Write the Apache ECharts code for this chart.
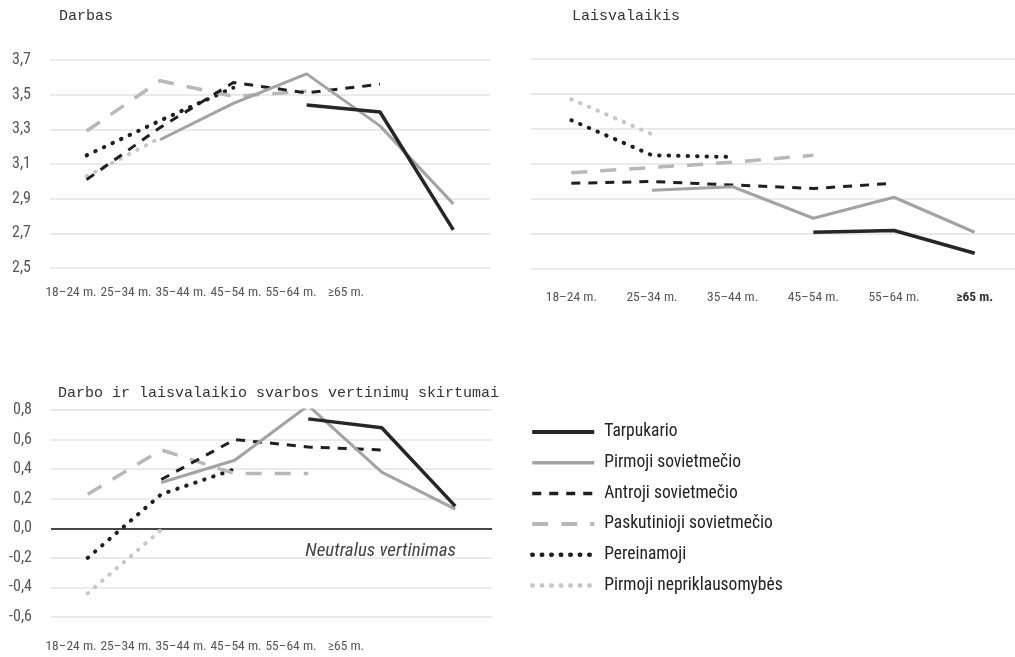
<!DOCTYPE html>
<html>
<head>
<meta charset="utf-8">
<script src="https://cdn.jsdelivr.net/npm/echarts@6/dist/echarts.min.js"></script>
<style>
html,body{margin:0;padding:0;background:#fff;}
#chart{width:1015px;height:657px;}
</style>
</head>
<body>
<div id="chart"></div>
<script>
// ---- data ----
const categories = ['18–24 m.', '25–34 m.', '35–44 m.', '45–54 m.', '55–64 m.', '≥65 m.'];
const seriesNames = ['Tarpukario', 'Pirmoji sovietmečio', 'Antroji sovietmečio', 'Paskutinioji sovietmečio', 'Pereinamoji', 'Pirmoji nepriklausomybės'];

const workTicks = ['2,5', '2,7', '2,9', '3,1', '3,3', '3,5', '3,7'];
const diffTicks = ['-0,6', '-0,4', '-0,2', '0,0', '0,2', '0,4', '0,6', '0,8'];

// Darbas
const workTarpukario   = [null, null, null, 3.44, 3.40, 2.72];
const workPirmojiSov   = [null, 3.24, 3.45, 3.62, 3.32, 2.87];
const workAntrojiSov   = [3.01, 3.31, 3.57, 3.51, 3.56, null];
const workPaskutinioji = [3.29, 3.58, 3.49, 3.52, null, null];
const workPereinamoji  = [3.15, 3.35, 3.54, null, null, null];
const workPirmojiNepr  = [3.03, 3.25, null, null, null, null];

// Laisvalaikis
const leisTarpukario   = [null, null, null, 2.71, 2.72, 2.59];
const leisPirmojiSov   = [null, 2.95, 2.97, 2.79, 2.91, 2.71];
const leisAntrojiSov   = [2.99, 3.00, 2.98, 2.96, 2.99, null];
const leisPaskutinioji = [3.05, 3.08, 3.11, 3.15, null, null];
const leisPereinamoji  = [3.35, 3.15, 3.14, null, null, null];
const leisPirmojiNepr  = [3.47, 3.27, null, null, null, null];

// Skirtumai
const diffTarpukario   = [null, null, null, 0.74, 0.68, 0.15];
const diffPirmojiSov   = [null, 0.31, 0.46, 0.83, 0.38, 0.13];
const diffAntrojiSov   = [null, 0.33, 0.60, 0.55, 0.53, null];
const diffPaskutinioji = [0.23, 0.53, 0.37, 0.37, null, null];
const diffPereinamoji  = [-0.20, 0.23, 0.40, null, null, null];
const diffPirmojiNepr  = [-0.44, -0.01, null, null, null, null];

// ---- styles ----
const styles = [
  {color: '#262626', width: 3.5, type: 'solid', cap: 'butt'},
  {color: '#a3a3a3', width: 3, type: 'solid', cap: 'butt'},
  {color: '#1f1f1f', width: 3, type: [9, 8], cap: 'butt'},
  {color: '#b8b8b8', width: 3.5, type: [16, 13], cap: 'butt'},
  {color: '#1f1f1f', width: 4, type: [0.5, 9], cap: 'round'},
  {color: '#c6c6c6', width: 4, type: [0.5, 9], cap: 'round'}
];

const condFont = '"Roboto Condensed", Roboto, sans-serif';
const titleFont = '"Liberation Mono", "DejaVu Sans Mono", monospace';
const gridColor = '#e3e3e3';
const tickColor = '#555';

const panels = [
  {x: 0, y: 0, data: [workTarpukario, workPirmojiSov, workAntrojiSov, workPaskutinioji, workPereinamoji, workPirmojiNepr]},
  {x: 2, y: 3, data: [leisTarpukario, leisPirmojiSov, leisAntrojiSov, leisPaskutinioji, leisPereinamoji, leisPirmojiNepr]},
  {x: 3, y: 5, data: [diffTarpukario, diffPirmojiSov, diffAntrojiSov, diffPaskutinioji, diffPereinamoji, diffPirmojiNepr]}
];

const series = [];
panels.forEach((p, pi) => {
  p.data.forEach((d, si) => {
    const st = styles[si];
    const s = {
      name: seriesNames[si],
      type: 'line',
      xAxisIndex: p.x,
      yAxisIndex: p.y,
      data: d,
      symbol: 'none',
      showSymbol: false,
      connectNulls: false,
      silent: true,
      z: 10 - si,
      itemStyle: {color: st.color},
      lineStyle: {color: st.color, width: st.width, type: st.type, cap: st.cap}
    };
    if (pi === 2 && si === 0) {
      s.markLine = {
        silent: true,
        symbol: 'none',
        label: {show: false},
        lineStyle: {color: '#111', width: 1.5, type: 'solid'},
        data: [{yAxis: 0}],
        z: 1
      };
    }
    series.push(s);
  });
});

const labelAxisCommon = {
  axisLine: {show: false}, axisTick: {show: false}, splitLine: {show: false}
};

const legendData = seriesNames.map((n, i) => ({
  name: n,
  itemStyle: {opacity: 0},
  lineStyle: {color: styles[i].color, width: styles[i].width + 0.5, type: styles[i].type, cap: styles[i].cap}
}));

const xLabel = {show: true, fontFamily: condFont, fontSize: 13.5, color: tickColor, interval: 0};
const yLabel = {show: true, interval: 0, margin: 19, fontFamily: condFont, fontSize: 16, color: tickColor};

const option = {
  backgroundColor: '#fff',
  animation: false,
  title: [
    {text: 'Darbas', left: 59, top: 9, padding: 0, textStyle: {fontFamily: titleFont, fontSize: 15, fontWeight: 'normal', color: '#333'}},
    {text: 'Laisvalaikis', left: 572, top: 9, padding: 0, textStyle: {fontFamily: titleFont, fontSize: 15, fontWeight: 'normal', color: '#333'}},
    {text: 'Darbo ir laisvalaikio svarbos vertinimų skirtumai', left: 58, top: 386, padding: 0, textStyle: {fontFamily: titleFont, fontSize: 15, fontWeight: 'normal', color: '#333'}}
  ],
  legend: {
    orient: 'vertical',
    left: 525,
    top: 417,
    itemWidth: 62,
    itemHeight: 14,
    itemGap: 10.7,
    selectedMode: false,
    data: legendData,
    itemStyle: {opacity: 0},
    textStyle: {fontFamily: condFont, fontSize: 17.5, color: '#222', lineHeight: 20, padding: [0, 0, 0, 5]}
  },
  grid: [
    {left: 50, top: 60, width: 440, height: 208},
    {left: 43.5, top: 60, width: 330, height: 208},
    {left: 531, top: 59, width: 490, height: 210},
    {left: 51, top: 410, width: 441, height: 207},
    {left: 43.5, top: 410, width: 330, height: 207}
  ],
  xAxis: [
    Object.assign({type: 'category', gridIndex: 0, data: categories, boundaryGap: true, axisLabel: {show: false}}, labelAxisCommon),
    Object.assign({type: 'category', gridIndex: 1, data: categories, boundaryGap: true,
      axisLabel: Object.assign({margin: 18}, xLabel)}, labelAxisCommon),
    Object.assign({type: 'category', gridIndex: 2, data: categories, boundaryGap: true,
      axisLabel: Object.assign({margin: 22,
        formatter: (v, i) => i === categories.length - 1 ? '{b|' + v + '}' : v,
        rich: {b: {fontFamily: condFont, fontSize: 13.5, fontWeight: 'bold', color: '#333'}}}, xLabel)}, labelAxisCommon),
    Object.assign({type: 'category', gridIndex: 3, data: categories, boundaryGap: true, axisLabel: {show: false}}, labelAxisCommon),
    Object.assign({type: 'category', gridIndex: 4, data: categories, boundaryGap: true,
      axisLabel: Object.assign({margin: 23}, xLabel)}, labelAxisCommon)
  ],
  yAxis: [
    {type: 'value', gridIndex: 0, min: 2.5, max: 3.7, show: false},
    {type: 'category', gridIndex: 0, position: 'left', data: workTicks, boundaryGap: false, axisLine: {show: false}, axisTick: {show: false},
      axisLabel: yLabel,
      splitLine: {show: true, interval: 0, lineStyle: {color: gridColor, width: 1.5}}},
    {type: 'value', gridIndex: 1, show: false},
    {type: 'value', gridIndex: 2, min: 2.5, max: 3.7, show: false},
    {type: 'category', gridIndex: 2, position: 'left', data: workTicks, boundaryGap: false, axisLine: {show: false}, axisTick: {show: false},
      axisLabel: {show: false},
      splitLine: {show: true, interval: 0, lineStyle: {color: gridColor, width: 1.5}}},
    {type: 'value', gridIndex: 3, min: -0.6, max: 0.8, show: false},
    {type: 'category', gridIndex: 3, position: 'left', data: diffTicks, boundaryGap: false, axisLine: {show: false}, axisTick: {show: false},
      axisLabel: yLabel,
      splitLine: {show: true, interval: 0, lineStyle: {color: gridColor, width: 1.5}}},
    {type: 'value', gridIndex: 4, show: false}
  ],
  graphic: [
    {type: 'text', right: 1015 - 456, top: 542, silent: true,
      style: {text: 'Neutralus vertinimas', font: 'italic 19px ' + condFont, fill: '#444', textAlign: 'right'}}
  ],
  series: series
};

const chart = echarts.init(document.getElementById('chart'), null, {renderer: 'canvas'});
chart.setOption(option);
</script>
</body>
</html>
